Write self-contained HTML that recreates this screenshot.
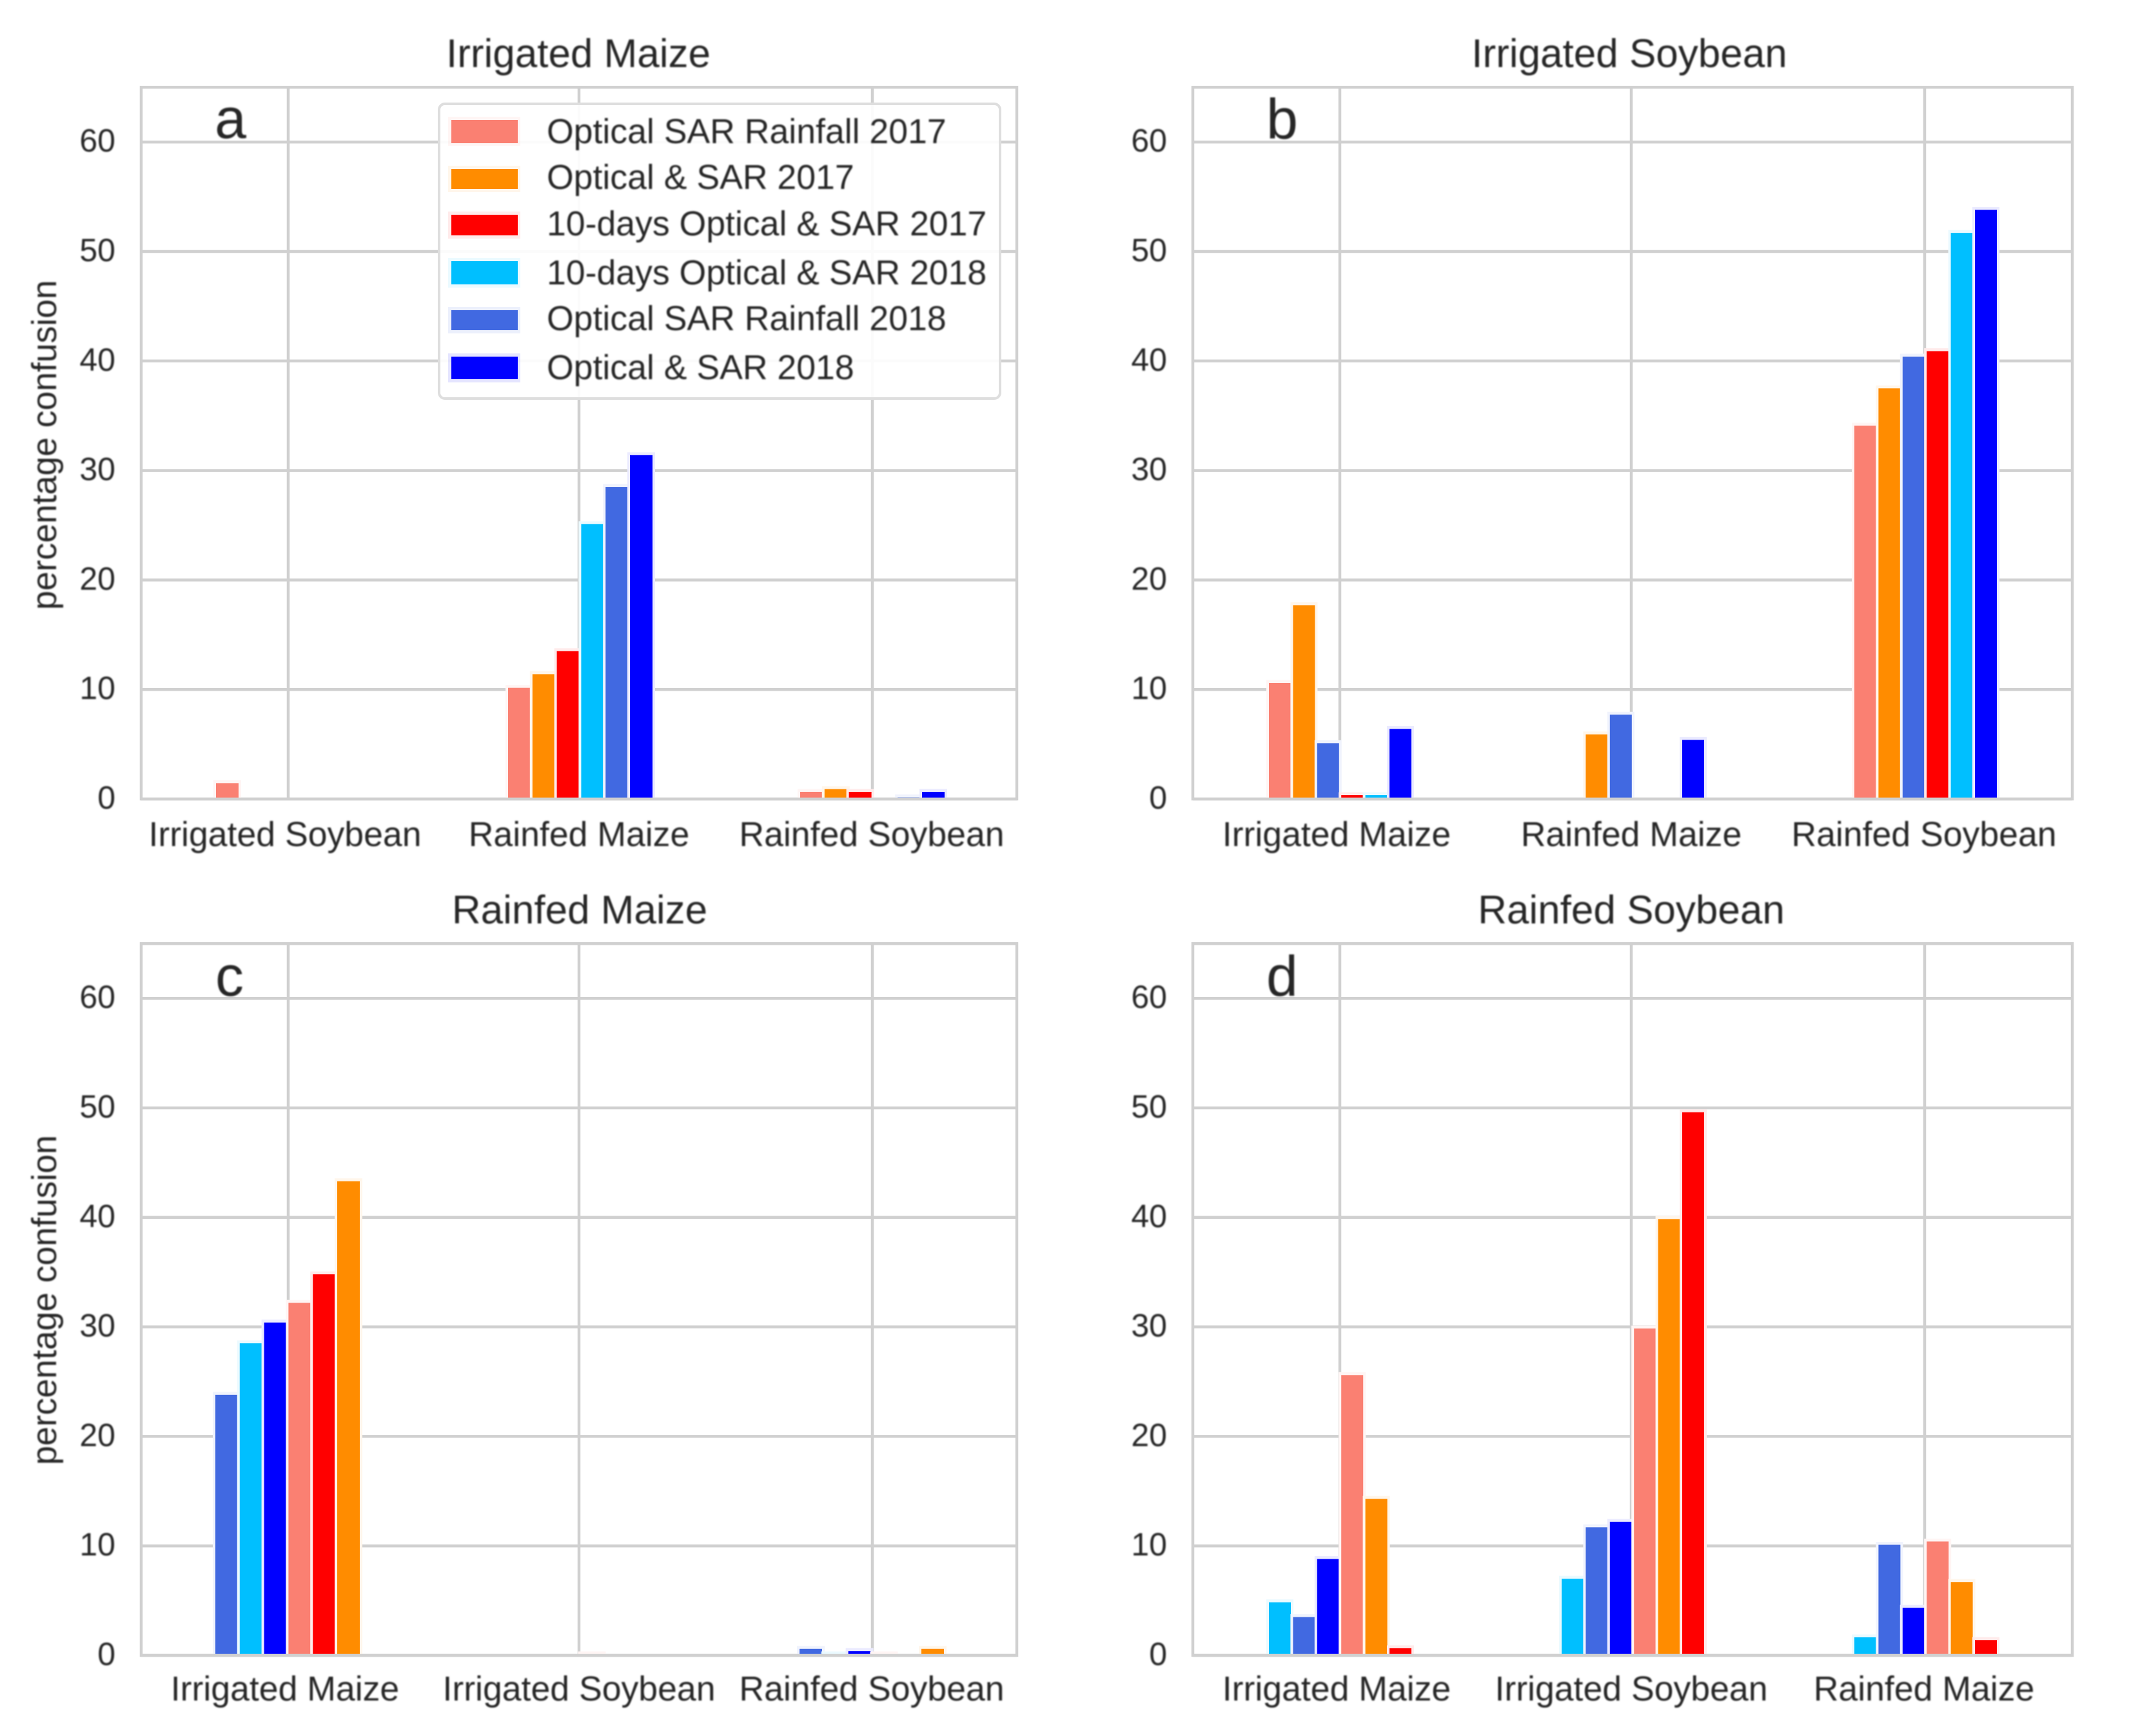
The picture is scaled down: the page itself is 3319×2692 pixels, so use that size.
<!DOCTYPE html>
<html lang="en">
<head>
<meta charset="utf-8">
<title>Percentage confusion by crop class</title>
<style>
  html, body { margin: 0; padding: 0; background: #ffffff; }
  svg { display: block; }
  text { font-family: "Liberation Sans", Arial, sans-serif; fill: #262626; }
  .soft { filter: blur(1.1px); }
</style>
</head>
<body>
<svg id="figure" xmlns="http://www.w3.org/2000/svg" width="3319" height="2692" viewBox="0 0 3319 2692">
  <rect x="0" y="0" width="3319" height="2692" fill="#ffffff"/>

  <g id="panel-a"></g>
  <g id="panel-b"></g>
  <g id="panel-c"></g>
  <g id="panel-d"></g>

  <g class="soft" font-size="62" text-anchor="middle">
    <text x="897" y="104">Irrigated Maize</text>
    <text x="2527" y="104">Irrigated Soybean</text>
    <text x="899" y="1432">Rainfed Maize</text>
    <text x="2530" y="1432">Rainfed Soybean</text>
  </g>

  <g class="soft" font-size="88">
    <text x="333" y="214">a</text>
    <text x="1964" y="215">b</text>
    <text x="334" y="1544">c</text>
    <text x="1964" y="1544">d</text>
  </g>

  <g class="soft" font-size="53.5" text-anchor="middle">
    <text transform="translate(87 690) rotate(-90)">percentage confusion</text>
    <text transform="translate(87 2016) rotate(-90)">percentage confusion</text>
  </g>

  <g>
    <rect x="681" y="161" width="870" height="457" rx="9" ry="9" fill="#ffffff" fill-opacity="0.9" stroke="#dedede" stroke-width="4"/>
    <g>
      <rect x="695" y="181" width="112" height="45" fill="#fa8072" fill-opacity="0.08"/>
      <rect x="700" y="186" width="103" height="36" fill="#fa8072"/>
      <text class="soft" x="848" y="222" font-size="53.6">Optical SAR Rainfall 2017</text>
    </g>
    <g>
      <rect x="695" y="257" width="112" height="41" fill="#ff8c00" fill-opacity="0.08"/>
      <rect x="700" y="262" width="103" height="31" fill="#ff8c00"/>
      <text class="soft" x="848" y="293" font-size="53.6">Optical &amp; SAR 2017</text>
    </g>
    <g>
      <rect x="695" y="328" width="112" height="42" fill="#ff0000" fill-opacity="0.08"/>
      <rect x="700" y="333" width="103" height="32" fill="#ff0000"/>
      <text class="soft" x="848" y="365" font-size="53.6">10-days Optical &amp; SAR 2017</text>
    </g>
    <g>
      <rect x="695" y="400" width="112" height="46" fill="#00bfff" fill-opacity="0.08"/>
      <rect x="700" y="405" width="103" height="36" fill="#00bfff"/>
      <text class="soft" x="848" y="441" font-size="53.6">10-days Optical &amp; SAR 2018</text>
    </g>
    <g>
      <rect x="695" y="476" width="112" height="41" fill="#4169e1" fill-opacity="0.1"/>
      <rect x="700" y="481" width="103" height="31" fill="#4169e1"/>
      <text class="soft" x="848" y="512" font-size="53.6">Optical SAR Rainfall 2018</text>
    </g>
    <g>
      <rect x="695" y="548" width="112" height="45" fill="#0000ff" fill-opacity="0.1"/>
      <rect x="700" y="553" width="103" height="35" fill="#0000ff"/>
      <text class="soft" x="848" y="588" font-size="53.6">Optical &amp; SAR 2018</text>
    </g>
  </g>
</svg>

<script>
// y axis tick labels (shared by all four panels)
const yTickValues = [0, 10, 20, 30, 40, 50, 60];

// series colours
const colorRainfall2017 = '#fa8072';
const colorOptical2017 = '#ff8c00';
const colorTenDay2017 = '#ff0000';
const colorTenDay2018 = '#00bfff';
const colorRainfall2018 = '#4169e1';
const colorOptical2018 = '#0000ff';

// Panel a: Irrigated Maize
const categoriesA = ['Irrigated Soybean', 'Rainfed Maize', 'Rainfed Soybean'];
const aRainfall2017 = [1.45, 10.15, 0.65];
const aOptical2017 = [0, 11.4, 0.9];
const aTenDay2017 = [0, 13.5, 0.65];
const aTenDay2018 = [0, 25.1, 0];
const aRainfall2018 = [0, 28.5, 0.15];
const aOptical2018 = [0, 31.4, 0.65];

// Panel b: Irrigated Soybean
const categoriesB = ['Irrigated Maize', 'Rainfed Maize', 'Rainfed Soybean'];
const bRainfall2017 = [10.6, 0, 34.1];
const bOptical2017 = [17.7, 5.9, 37.5];
const bRainfall2018 = [5.1, 7.7, 40.4];
const bTenDay2017 = [0.35, 0, 40.9];
const bTenDay2018 = [0.35, 0, 51.7];
const bOptical2018 = [6.4, 5.4, 53.8];

// Panel c: Rainfed Maize
const categoriesC = ['Irrigated Maize', 'Irrigated Soybean', 'Rainfed Soybean'];
const cRainfall2018 = [23.8, 0, 0.6];
const cTenDay2018 = [28.5, 0, 0.1];
const cOptical2018 = [30.4, 0, 0.4];
const cRainfall2017 = [32.2, 0.1, 0.1];
const cTenDay2017 = [34.8, 0, 0];
const cOptical2017 = [43.3, 0, 0.6];

// Panel d: Rainfed Soybean
const categoriesD = ['Irrigated Maize', 'Irrigated Soybean', 'Rainfed Maize'];
const dTenDay2018 = [4.85, 7.0, 1.65];
const dRainfall2018 = [3.5, 11.7, 10.1];
const dOptical2018 = [8.8, 12.2, 4.35];
const dRainfall2017 = [25.6, 29.85, 10.4];
const dOptical2017 = [14.3, 39.85, 6.7];
const dTenDay2017 = [0.65, 49.6, 1.4];

const SVG_NS = 'http://www.w3.org/2000/svg';

function make(parent, tag, attrs, content) {
  const node = document.createElementNS(SVG_NS, tag);
  for (const key in attrs) node.setAttribute(key, attrs[key]);
  if (content !== undefined) node.textContent = content;
  parent.appendChild(node);
  return node;
}

function slug(s) {
  return String(s).toLowerCase().replace(/[^a-z0-9]+/g, '-');
}

function drawPanel(cfg) {
  const root = document.getElementById(cfg.id);
  const yScale = v => cfg.baseY - v * 16.98;
  const barLeft = (g, s) => cfg.barStart + g * cfg.groupStep + s * cfg.barStep;

  const gridLayer = make(root, 'g', {});
  
  

  yTickValues.forEach(v => {
    const line = make(gridLayer, 'line', { x1: cfg.left, x2: cfg.right, y1: yScale(v), y2: yScale(v), stroke: '#d0d0d0', 'stroke-width': 4.5 });
    
    
  });
  cfg.xTicks.forEach((x, i) => {
    const line = make(gridLayer, 'line', { x1: x, x2: x, y1: cfg.baseY - 65 * 16.98, y2: cfg.baseY, stroke: '#d0d0d0', 'stroke-width': 4.5 });
    
    
  });

  cfg.series.forEach(series => {
    const seriesGroup = make(root, 'g', {});
    
    
    series.values.forEach((value, g) => {
      if (value <= 0) return;
      const x = barLeft(g, series.slot);
      const top = yScale(value);
      const halo = make(seriesGroup, 'g', {});
      
      
      make(halo, 'rect', { x: x - 4, y: top - 4.5, width: cfg.barWidth + 8, height: cfg.baseY - top + 4.5, fill: '#ffffff' });
      make(halo, 'rect', { x: x - 4, y: top - 4.5, width: cfg.barWidth + 8, height: cfg.baseY - top + 4.5, fill: series.color, 'fill-opacity': 0.08 });
      const bar = make(seriesGroup, 'rect', { x: x, y: top, width: cfg.barWidth, height: cfg.baseY - top, fill: series.color });
      
      
    });
  });

  const frame = make(root, 'rect', {
    x: cfg.left, y: cfg.baseY - 65 * 16.98, width: cfg.right - cfg.left, height: 65 * 16.98,
    fill: 'none', stroke: '#d0d0d0', 'stroke-width': 4.5
  });
  
  

  const yLabels = make(root, 'g', { class: 'soft', 'font-size': 50, 'text-anchor': 'end' });
  
  
  yTickValues.forEach(v => {
    const label = make(yLabels, 'text', { x: cfg.left - 40, y: yScale(v) + 15 }, String(v));
    
    
  });

  const xLabels = make(root, 'g', { class: 'soft', 'font-size': 53.6, 'text-anchor': 'middle' });
  
  
  cfg.categories.forEach((name, i) => {
    const label = make(xLabels, 'text', { x: cfg.xTicks[i] + (i === 0 ? -5 : (i === 2 ? -1 : 0)), y: cfg.labelY }, name);
    
    
  });
}

drawPanel({
  id: 'panel-a', left: 219, right: 1577, baseY: 1239, labelY: 1312,
  xTicks: [447, 898, 1353], barStart: 335, groupStep: 453, barStep: 37.8, barWidth: 35,
  categories: categoriesA,
  series: [
    { key: 'optical-sar-rainfall-2017', slot: 0, color: colorRainfall2017, values: aRainfall2017 },
    { key: 'optical-sar-2017', slot: 1, color: colorOptical2017, values: aOptical2017 },
    { key: '10-days-optical-sar-2017', slot: 2, color: colorTenDay2017, values: aTenDay2017 },
    { key: '10-days-optical-sar-2018', slot: 3, color: colorTenDay2018, values: aTenDay2018 },
    { key: 'optical-sar-rainfall-2018', slot: 4, color: colorRainfall2018, values: aRainfall2018 },
    { key: 'optical-sar-2018', slot: 5, color: colorOptical2018, values: aOptical2018 }
  ]
});

drawPanel({
  id: 'panel-b', left: 1850, right: 3214, baseY: 1239, labelY: 1312,
  xTicks: [2078, 2530, 2985], barStart: 1968, groupStep: 454, barStep: 37.4, barWidth: 34,
  categories: categoriesB,
  series: [
    { key: 'optical-sar-rainfall-2017', slot: 0, color: colorRainfall2017, values: bRainfall2017 },
    { key: 'optical-sar-2017', slot: 1, color: colorOptical2017, values: bOptical2017 },
    { key: 'optical-sar-rainfall-2018', slot: 2, color: colorRainfall2018, values: bRainfall2018 },
    { key: '10-days-optical-sar-2017', slot: 3, color: colorTenDay2017, values: bTenDay2017 },
    { key: '10-days-optical-sar-2018', slot: 4, color: colorTenDay2018, values: bTenDay2018 },
    { key: 'optical-sar-2018', slot: 5, color: colorOptical2018, values: bOptical2018 }
  ]
});

drawPanel({
  id: 'panel-c', left: 219, right: 1577, baseY: 2567, labelY: 2637,
  xTicks: [447, 898, 1353], barStart: 334, groupStep: 453, barStep: 37.8, barWidth: 35,
  categories: categoriesC,
  series: [
    { key: 'optical-sar-rainfall-2018', slot: 0, color: colorRainfall2018, values: cRainfall2018 },
    { key: '10-days-optical-sar-2018', slot: 1, color: colorTenDay2018, values: cTenDay2018 },
    { key: 'optical-sar-2018', slot: 2, color: colorOptical2018, values: cOptical2018 },
    { key: 'optical-sar-rainfall-2017', slot: 3, color: colorRainfall2017, values: cRainfall2017 },
    { key: '10-days-optical-sar-2017', slot: 4, color: colorTenDay2017, values: cTenDay2017 },
    { key: 'optical-sar-2017', slot: 5, color: colorOptical2017, values: cOptical2017 }
  ]
});

drawPanel({
  id: 'panel-d', left: 1850, right: 3214, baseY: 2567, labelY: 2637,
  xTicks: [2078, 2530, 2985], barStart: 1968, groupStep: 454, barStep: 37.4, barWidth: 34,
  categories: categoriesD,
  series: [
    { key: '10-days-optical-sar-2018', slot: 0, color: colorTenDay2018, values: dTenDay2018 },
    { key: 'optical-sar-rainfall-2018', slot: 1, color: colorRainfall2018, values: dRainfall2018 },
    { key: 'optical-sar-2018', slot: 2, color: colorOptical2018, values: dOptical2018 },
    { key: 'optical-sar-rainfall-2017', slot: 3, color: colorRainfall2017, values: dRainfall2017 },
    { key: 'optical-sar-2017', slot: 4, color: colorOptical2017, values: dOptical2017 },
    { key: '10-days-optical-sar-2017', slot: 5, color: colorTenDay2017, values: dTenDay2017 }
  ]
});
</script>
</body>
</html>
